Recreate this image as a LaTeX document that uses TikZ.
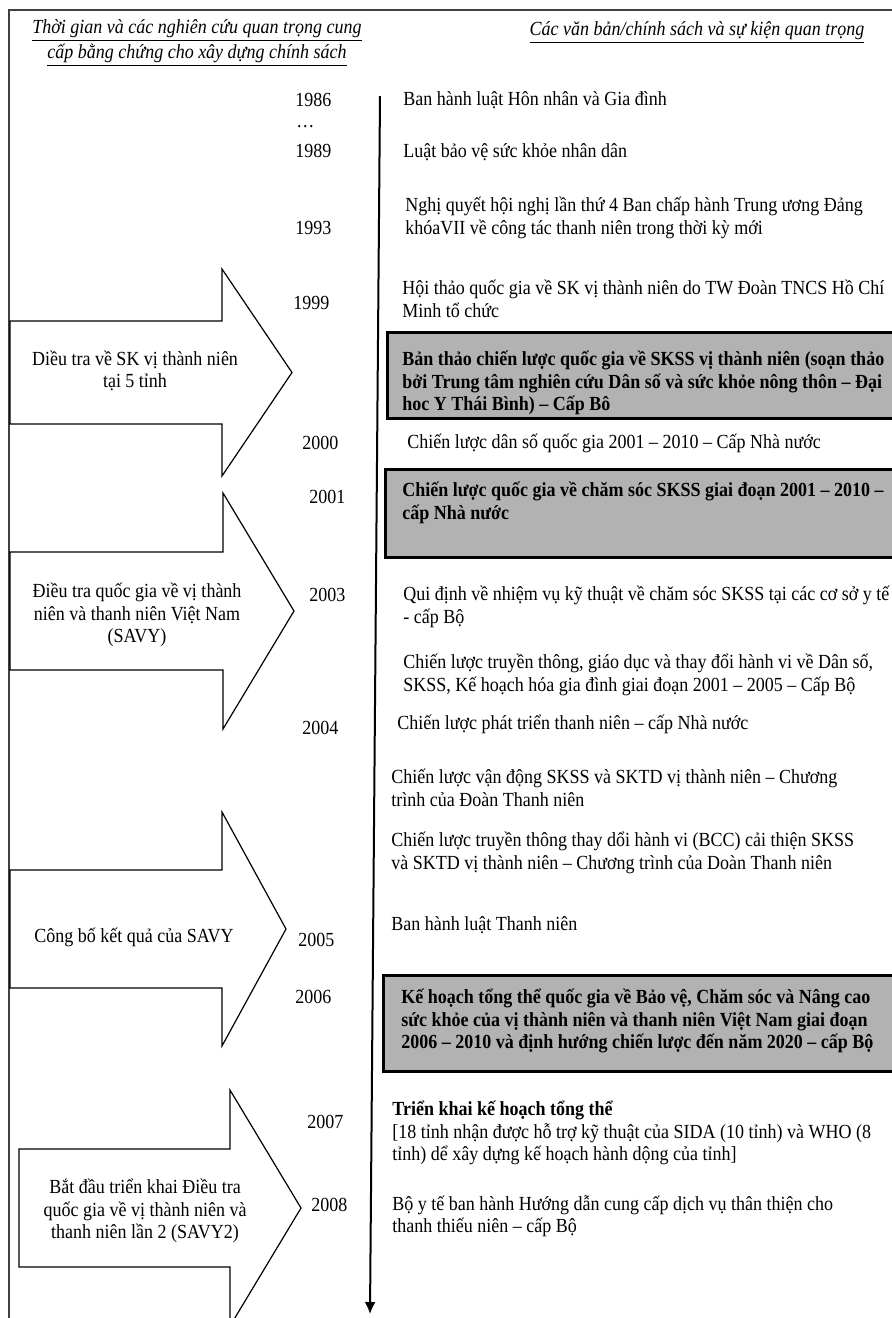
\documentclass[tikz,border=0pt]{standalone}
\usepackage{fontspec}
\setmainfont{Liberation Serif}[FakeStretch=0.9]
\usetikzlibrary{positioning,arrows.meta}

\definecolor{boxgray}{RGB}{178,178,178}
\definecolor{framegray}{RGB}{64,64,64}

\tikzset{
    yearlabel/.style={anchor=west, inner sep=0pt, font=\fontsize{10}{11.25}\selectfont},
    eventtext/.style={anchor=west, align=left, inner sep=0pt, font=\fontsize{10}{11.25}\selectfont},
    keytext/.style={eventtext, font=\fontsize{10}{11.25}\selectfont\bfseries},
    keybox/.style={draw, fill=boxgray, line width=1.4pt, anchor=north west, inner sep=0pt},
    studyarrow/.style={draw, fill=white, line width=0.6pt},
    studytext/.style={align=center, inner sep=0pt, font=\fontsize{10}{11.25}\selectfont},
    headtext/.style={align=center, inner sep=0pt, font=\fontsize{10}{10.5}\selectfont\itshape}
}

\begin{document}
\begin{tikzpicture}[x=0.5pt, y=-0.5pt]
\useasboundingbox (0,0) rectangle (892,1318);
\fill[white] (0,0) rectangle (892,1318);
\clip (0,0) rectangle (892,1318);

% Frame
\draw[framegray, line width=0.8pt] (9,1330) -- (9,10) -- (900,10);

% Study arrows
\draw[studyarrow] (10,321) -- (222,321) -- (222,269) -- (292,372.5) -- (222,476) -- (222,424) -- (10,424) -- cycle;
\draw[studyarrow] (10,552) -- (223,552) -- (223,493) -- (294,611) -- (223,729) -- (223,670) -- (10,670) -- cycle;
\draw[studyarrow] (10,870) -- (222,870) -- (222,812) -- (286,929) -- (222,1046) -- (222,988) -- (10,988) -- cycle;
\draw[studyarrow] (19,1149) -- (230,1149) -- (230,1090) -- (301,1208) -- (230,1326) -- (230,1267) -- (19,1267) -- cycle;

\node[studytext] (study1) at (135,371) {Diều tra về SK vị thành niên\\tại 5 tỉnh};
\node[studytext] (study2) at (137,615) {Điều tra quốc gia về vị thành\\niên và thanh niên Việt Nam\\(SAVY)};
\node[studytext] (study3) at (134,937) {Công bố kết quả của SAVY};
\node[studytext] (study4) at (145,1211) {Bắt đầu triển khai Điều tra\\quốc gia về vị thành niên và\\thanh niên lần 2 (SAVY2)};

% Headings
\node[headtext] (studyhead) at (197,43) {\underline{Thời gian và các nghiên cứu quan trọng cung}\\\underline{cấp bằng chứng cho xây dựng chính sách}};
\node[headtext] (eventhead) at (697,33) {\underline{Các văn bản/chính sách và sự kiện quan trọng}};

% Timeline
\coordinate (tstart) at (380,96);
\coordinate (tend) at (370,1314);
\draw[line width=1pt, -{Latex[length=6pt,width=5.5pt]}] (tstart) -- (tend);

% Years
\node[yearlabel] (y1986) at (295,100) {1986};
\node[yearlabel] (ydots) at (296,127) {…};
\node[yearlabel] (y1989) at (295,151) {1989};
\node[yearlabel] (y1993) at (295,228) {1993};
\node[yearlabel] (y1999) at (293,303) {1999};
\node[yearlabel] (y2000) at (302,443) {2000};
\node[yearlabel] (y2001) at (309,497) {2001};
\node[yearlabel] (y2003) at (309,595) {2003};
\node[yearlabel] (y2004) at (302,728) {2004};
\node[yearlabel] (y2005) at (298,940) {2005};
\node[yearlabel] (y2006) at (295,997) {2006};
\node[yearlabel] (y2007) at (307,1122) {2007};
\node[yearlabel] (y2008) at (311,1205) {2008};

% Key documents
\node[keybox, minimum width=260pt, minimum height=43pt] (draftbox) at (386,331) {};
\node[keybox, minimum width=261pt, minimum height=44pt] (rhbox) at (384,468) {};
\node[keybox, minimum width=262pt, minimum height=48pt] (planbox) at (382,974) {};

\node[keytext] (draft) at (402,383) {Bản thảo chiến lược quốc gia về SKSS vị thành niên (soạn thảo\\bởi Trung tâm nghiên cứu Dân số và sức khỏe nông thôn – Đại\\hoc Y Thái Bình) – Cấp Bô};
\node[keytext] (rhplan) at (402,503) {Chiến lược quốc gia về chăm sóc SKSS giai đoạn 2001 – 2010 –\\cấp Nhà nước};
\node[keytext] (masterplan) at (401,1021) {Kế hoạch tổng thể quốc gia về Bảo vệ, Chăm sóc và Nâng cao\\sức khỏe của vị thành niên và thanh niên Việt Nam giai đoạn\\2006 – 2010 và định hướng chiến lược đến năm 2020 – cấp Bộ};

% Events
\node[eventtext] (ev1986) at (403,100) {Ban hành luật Hôn nhân và Gia đình};
\node[eventtext] (ev1989) at (403,152) {Luật bảo vệ sức khỏe nhân dân};
\node[eventtext] (ev1993) at (405,218) {Nghị quyết hội nghị lần thứ 4 Ban chấp hành Trung ương Đảng\\khóaVII về công tác thanh niên trong thời kỳ mới};
\node[eventtext] (ev1999) at (402,299) {Hội thảo quốc gia về SK vị thành niên do TW Đoàn TNCS Hồ Chí\\Minh tổ chức};
\node[eventtext] (ev2000) at (407,443) {Chiến lược dân số quốc gia 2001 – 2010 – Cấp Nhà nước};
\node[eventtext] (ev2003a) at (403,607) {Qui định về nhiệm vụ kỹ thuật về chăm sóc SKSS tại các cơ sở y tế\\- cấp Bộ};
\node[eventtext] (ev2003b) at (403,675) {Chiến lược truyền thông, giáo dục và thay đổi hành vi về Dân số,\\SKSS, Kế hoạch hóa gia đình giai đoạn 2001 – 2005 – Cấp Bộ};
\node[eventtext] (ev2004a) at (397,724) {Chiến lược phát triển thanh niên – cấp Nhà nước};
\node[eventtext] (ev2004b) at (391,788) {Chiến lược vận động SKSS và SKTD vị thành niên – Chương\\trình của Đoàn Thanh niên};
\node[eventtext] (ev2004c) at (391,853) {Chiến lược truyền thông thay dổi hành vi (BCC) cải thiện SKSS\\và SKTD vị thành niên – Chương trình của Doàn Thanh niên};
\node[eventtext] (ev2005) at (391,925) {Ban hành luật Thanh niên};
\node[eventtext] (ev2007) at (392,1133) {\textbf{Triển khai kế hoạch tổng thể}\\{[}18 tỉnh nhận được hỗ trợ kỹ thuật của SIDA (10 tỉnh) và WHO (8\\tỉnh) dể xây dựng kế hoạch hành dộng của tỉnh{]}};
\node[eventtext] (ev2008) at (392,1216) {Bộ y tế ban hành Hướng dẫn cung cấp dịch vụ thân thiện cho\\thanh thiếu niên – cấp Bộ};
\end{tikzpicture}
\end{document}
